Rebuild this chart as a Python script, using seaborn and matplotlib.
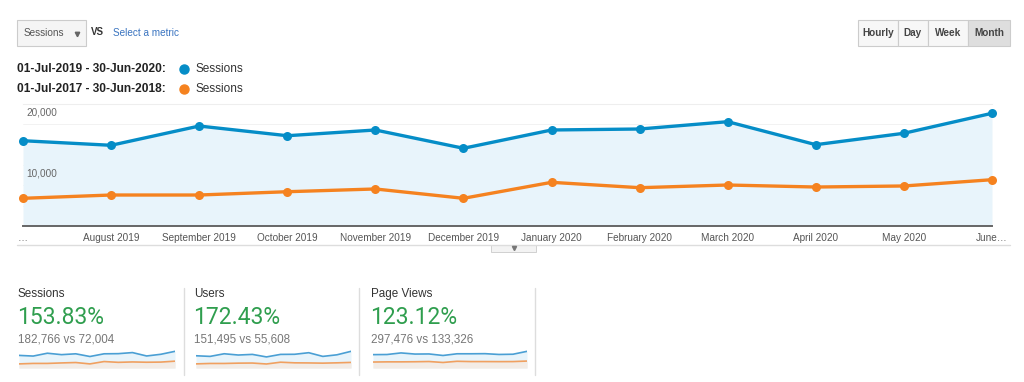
import matplotlib
matplotlib.use("Agg")
import numpy as np
import pandas as pd
import matplotlib.pyplot as plt
import seaborn as sns
from matplotlib.patches import Rectangle
from matplotlib.lines import Line2D
from matplotlib.ticker import MultipleLocator

# etiquetas del eje x (mensual)
meses = ["…", "August 2019", "September 2019", "October 2019", "November 2019",
         "December 2019", "January 2020", "February 2020", "March 2020",
         "April 2020", "May 2020", "June…"]

# sesiones por mes, periodo actual y periodo de comparacion
sesiones_actual = [13980, 13230, 16390, 14800, 15740, 12740, 15740, 15900, 17100, 13330, 15200, 18480]
sesiones_previo = [4540, 5080, 5080, 5620, 6070, 4540, 7160, 6280, 6720, 6390, 6560, 7590]
usuarios_actual = [11600, 11000, 13500, 12300, 12900, 10500, 12900, 13000, 14500, 11000, 12500, 15800]
usuarios_previo = [3900, 4300, 4300, 4600, 4700, 3800, 5500, 4900, 4800, 4600, 4900, 5300]
vistas_actual = [23500, 23700, 26500, 24500, 24700, 22000, 25000, 25000, 25200, 23800, 24200, 29300]
vistas_previo = [10500, 10800, 10800, 11000, 11400, 9700, 11800, 11300, 11300, 11200, 11300, 12200]

periodos = ["01-Jul-2019 - 30-Jun-2020:", "01-Jul-2017 - 30-Jun-2018:"]
tarjetas = ["Sessions", "Users", "Page Views"]
porcentajes = ["153.83%", "172.43%", "123.12%"]
totales = ["182,766 vs 72,004", "151,495 vs 55,608", "297,476 vs 133,326"]
botones = ["Hourly", "Day", "Week", "Month"]

AZUL = "#058dc7"
NARANJA = "#f5821f"
RELLENO = "#e8f4fb"
VERDE = "#2f9e4e"

sns.set_style("white")
plt.rcParams["font.family"] = ["Liberation Sans", "DejaVu Sans"]

W, H = 1024, 382
fig = plt.figure(figsize=(W / 100, H / 100), dpi=100)


def caja(x0, y0, x1, y1):
    # convierte pixeles (origen arriba-izquierda) a coordenadas de figura
    return [x0 / W, 1 - y1 / H, (x1 - x0) / W, (y1 - y0) / H]


def fx(x):
    return x / W


def fy(y):
    return 1 - y / H


def rectangulo(x0, y0, x1, y1, fc, ec="#cccccc", lw=0.8):
    fig.add_artist(Rectangle((fx(x0), fy(y1)), (x1 - x0) / W, (y1 - y0) / H,
                             transform=fig.transFigure, fc=fc, ec=ec, lw=lw))


def linea(xs, ys, **kw):
    fig.add_artist(Line2D([fx(x) for x in xs], [fy(y) for y in ys],
                          transform=fig.transFigure, **kw))


# ---- grafico principal ----
df = pd.DataFrame({"mes": range(len(meses)), "actual": sesiones_actual, "previo": sesiones_previo})
ax = fig.add_axes(caja(23, 104, 992, 226))
ax.fill_between(df["mes"], df["actual"], color=RELLENO, lw=0, zorder=1)
sns.lineplot(data=df, x="mes", y="actual", ax=ax, color=AZUL, lw=2.4, marker="o",
             markersize=6.5, markeredgewidth=0, clip_on=False, zorder=4)
sns.lineplot(data=df, x="mes", y="previo", ax=ax, color=NARANJA, lw=2.4, marker="o",
             markersize=6.5, markeredgewidth=0, clip_on=False, zorder=3)
ax.set_xlim(0, 11)
ax.set_ylim(0, 20000)
ax.yaxis.set_major_locator(MultipleLocator(20000 / 6))
ax.grid(axis="y", color="#f0f0f0", lw=0.6)
ax.grid(axis="x", visible=False)
ax.tick_params(axis="y", left=False, labelleft=False)
ax.set_xticks(df["mes"], meses)
ax.tick_params(axis="x", length=0, pad=5, labelsize=7.2, labelcolor="#555555")
for s in ["left", "right"]:
    ax.spines[s].set_visible(False)
ax.spines["top"].set_color("#eeeeee")
ax.spines["top"].set_linewidth(0.8)
ax.spines["bottom"].set_color("#666666")
ax.spines["bottom"].set_linewidth(1.4)
ax.set_xlabel("")
ax.set_ylabel("")
ax.set_facecolor("none")
for v in [10000, 20000]:
    ax.annotate(f"{v:,}", xy=(0, v), xytext=(2.5, -2.5), textcoords="offset points",
                ha="left", va="top", fontsize=7.2, color="#666666")

# separador y pestaña bajo el grafico
linea([17, 1010], [245, 245], color="#dddddd", lw=1)
rectangulo(491, 245, 536, 252, fc="#f3f3f3", ec="#d0d0d0", lw=0.7)
linea([513.5], [248], marker="v", markersize=3, color="#777777", lw=0)

# ---- controles superiores ----
rectangulo(17, 20, 86, 46, fc="#f5f5f5")
fig.text(fx(24), fy(33), "Sessions", fontsize=7.2, color="#555555", va="center")
linea([77], [33.5], marker="v", markersize=3.2, color="#666666", lw=0)
fig.text(fx(91), fy(32), "VS", fontsize=7, color="#333333", weight="bold", va="center")
fig.text(fx(113), fy(32.5), "Select a metric", fontsize=7.2, color="#3a74c0", va="center")

bordes = [858, 898, 928, 968, 1010]
for i, b in enumerate(botones):
    fc = "#dedede" if b == "Month" else "#f7f7f7"
    rectangulo(bordes[i], 20, bordes[i + 1], 46, fc=fc)
    fig.text(fx((bordes[i] + bordes[i + 1]) / 2), fy(33), b, fontsize=7.2,
             color="#444444", weight="bold", ha="center", va="center")

# ---- leyenda ----
for y, periodo, color in zip([69, 89], periodos, [AZUL, NARANJA]):
    fig.text(fx(17), fy(y), periodo, fontsize=8.6, weight="bold", color="#222222", va="center")
    linea([184], [y], marker="o", markersize=6.5, color=color, lw=0)
    fig.text(fx(196), fy(y), "Sessions", fontsize=8.5, color="#333333", va="center")

# ---- tarjetas inferiores ----
xs_tarjeta = [18, 194, 371]
spark = [(19, 175), (196, 351), (373, 527)]
series = [(sesiones_actual, sesiones_previo), (usuarios_actual, usuarios_previo),
          (vistas_actual, vistas_previo)]
for i in range(3):
    x = xs_tarjeta[i]
    fig.text(fx(x), fy(294), tarjetas[i], fontsize=8.4, color="#333333", va="center")
    fig.text(fx(x - 1), fy(318), porcentajes[i], fontsize=16.5, color=VERDE, va="center",
             family=["Roboto", "DejaVu Sans"])
    fig.text(fx(x), fy(340), totales[i], fontsize=8.4, color="#777777", va="center")

    act, prev = series[i]
    d = pd.DataFrame({"mes": range(len(act)), "actual": act, "previo": prev})
    sax = fig.add_axes(caja(spark[i][0], 350, spark[i][1], 368))
    sax.fill_between(d["mes"], d["actual"], color=RELLENO, lw=0)
    sax.fill_between(d["mes"], d["previo"], color="#f3ece6", lw=0)
    sns.lineplot(data=d, x="mes", y="actual", ax=sax, color="#4a9fd4", lw=1.2)
    sns.lineplot(data=d, x="mes", y="previo", ax=sax, color="#f0a060", lw=1.2)
    sax.set_xlim(0, 11)
    sax.set_ylim(0, max(act) * 1.08)
    sax.axis("off")

for x in [184, 359, 535]:
    linea([x, x], [288, 375], color="#dddddd", lw=1)

fig.savefig("out.png", dpi=100)
